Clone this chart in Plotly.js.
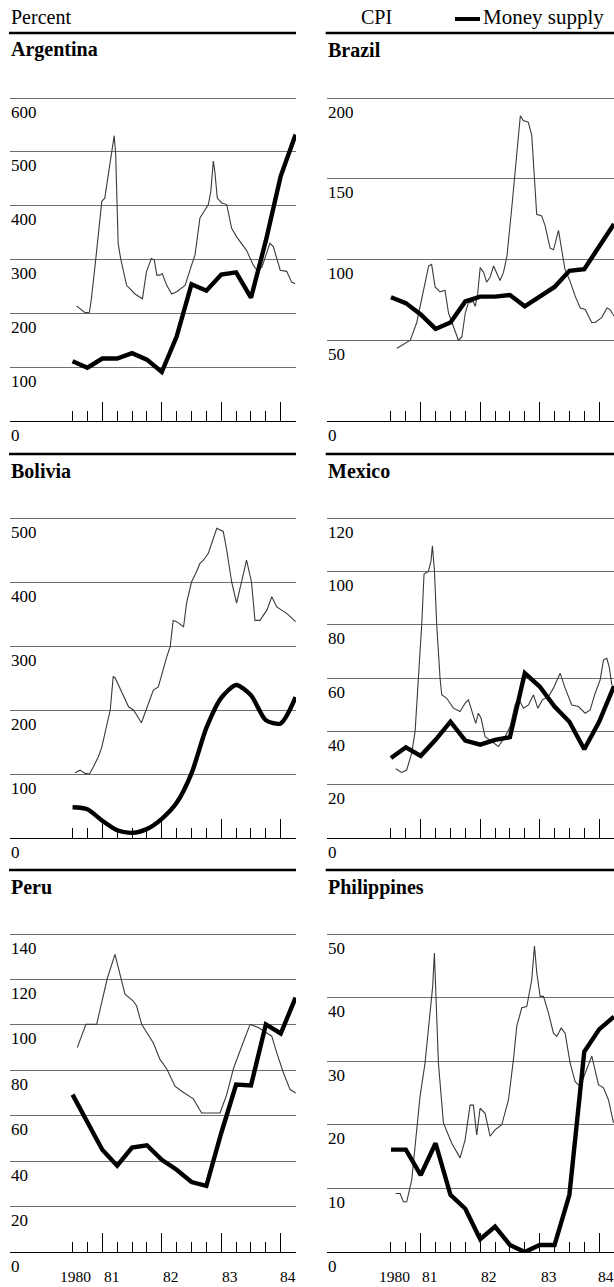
<!DOCTYPE html>
<html><head><meta charset="utf-8">
<script src="https://cdn.plot.ly/plotly-3.0.1.min.js"></script>
<style>html,body{margin:0;padding:0;background:#fff;} #chart{width:614px;height:1287px;}</style>
</head><body><div id="chart"></div>
<script>
// x values are months since January 1980
const quarterMonths = [6,9,12,15,18,21,24,27,30,33,36,39,42,45,48,51];
const yearTickMonths = [12,24,36,48];
const quarterTickMonths = [6,9,15,18,21,27,30,33,39,42,45,51];
const yearLabels = ["1980","81","82","83","84"];
const yearLabelMonths = [10.2,11.9,23.8,35.8,47.4];

const countries = ["Argentina","Brazil","Bolivia","Mexico","Peru","Philippines"];

// Argentina
const argCpiX = [6.8,8.5,9.4,9.8,10.7,11.2,11.9,12.5,13.5,14,14.4,14.7,14.9,15.2,15.7,16.9,18.6,19.6,20.1,20.9,21.9,22.5,23,23.6,24.1,25,26,27,28.7,30,30.7,31.7,32.7,33.4,33.9,34.4,34.7,35.2,36.1,37.1,38.1,39.1,41.1,42.5,43.2,44.2,44.8,45.8,46.5,47.2,47.9,49.2,50.2,50.9];
const argCpiY = [214,201,202,227,302,352,408,414,471,508,530,496,402,330,302,252,236,230,227,277,302,299,271,271,274,252,236,240,252,289,308,377,392,402,427,483,464,414,405,402,358,342,317,289,280,286,302,330,324,302,280,278,258,255];
const argMoney = [111,99,116,116,126,114,91,157,254,242,272,276,229,335,455,532];
const argTicks = [0,100,200,300,400,500,600];

// Brazil
const braCpiX = [7.2,8.8,9.9,11.2,13.6,14.2,14.9,15.9,16.9,17.6,18.6,19.6,20.3,21.0,21.6,22.6,23.0,23.5,24.0,24.7,25.3,26.0,26.7,27.3,28.0,28.7,29.4,30.4,31.0,32.1,32.7,33.7,34.4,35.1,35.4,36.4,37.1,38.1,38.8,39.8,40.5,41.1,42.2,43.2,44.2,45.2,46.5,47.2,48.5,49.6,50.2,51.0];
const braCpiY = [45,48,50,61,96,97,83,80,81,67,59,50,52,67,73,74,71,79,95,92,86,89,96,92,87,92,102,133,154,189,186,185,177,146,128,127,121,107,106,118,106,94,86,77,70,69,61,61,64,70,69,65];
const braMoney = [76.6,73,66,57,61,74,77,77,78,71,77,83,93,94,108,122];
const braTicks = [0,50,100,150,200];

// Bolivia
const bolCpiX = [6.5,7.5,8.5,9.4,10.2,11.2,11.9,12.9,13.6,14.2,14.6,17.3,18.3,19.9,21.0,22.3,23.3,24.0,25.0,25.7,26.3,27.0,28.4,29.0,30.0,31.0,31.7,32.4,33.4,35.1,36.4,37.1,38.1,39.1,40.1,41.1,42.1,42.8,43.8,45.2,46.2,47.2,49.2,51.0];
const bolCpiY = [102,106,101,100,111,127,142,179,200,252,250,205,200,180,205,231,236,257,283,299,340,338,330,367,400,416,429,434,445,484,479,450,400,367,403,434,400,340,340,356,377,361,351,338];
const bolMoney = [48,45,27,12,8,14,30,55,101,172,219,239,223,184,179,220];
const bolTicks = [0,100,200,300,400,500];

// Mexico
const mexCpiX = [6.95,8.16,9.17,10.18,10.86,11.53,12.2,12.67,13.55,14.09,14.36,14.76,15.23,15.9,16.24,17.25,18.6,19.94,20.95,21.62,22.3,23.1,23.64,24.18,24.99,26.33,27.68,29.03,30.04,31.04,31.72,32.73,33.74,34.75,35.62,36.56,37.77,38.78,40.13,41.14,42.48,43.83,45.18,46.19,47.2,48.21,48.88,49.55,50.02,50.56];
const mexCpiY = [26,24.6,25.5,31.8,39.9,59.3,80,99,100,104,109.6,100.6,80,60,53.7,52.4,48.7,47.4,50.5,51.8,48,43,46.8,44.9,38,36,34.3,38,41.8,49.9,52.4,48.7,49.9,53.7,48.7,51.8,53,56.2,61.8,56.2,49.9,49.3,46.8,48,54.3,59.3,66.8,67.4,64.3,57.4];
const mexMoney = [30,34,30.8,36.8,43.6,36.5,35,36.8,37.8,61.8,56.8,49.3,43.6,33.3,43.6,57];
const mexTicks = [0,20,40,60,80,100,120];

// Peru
const perCpiX = [6.95,8.7,10.86,11.53,13.0,14.56,15.7,16.58,18.26,18.93,19.94,20.95,22.3,23.64,24.99,26.67,28.02,30.37,32.05,33.06,35.75,37.1,38.45,40.13,41.81,43.49,45.18,46.19,47.2,48.54,49.89,51.0];
const perCpiY = [90,100.2,100.2,106.8,120.4,131,120.4,113.5,110.5,108.3,100.2,96.5,92,84.8,80.7,73,70.8,67.4,61.2,61.2,61.2,69.3,80.7,90.6,100.2,98.8,96.5,95,87.7,78.9,71.5,70];
const perMoney = [69.3,56.8,45,38,46,47,40.6,36.2,30.8,29.1,52.4,73.7,73.3,100.2,96.2,112];
const perTicks = [0,20,40,60,80,100,120,140];

// Philippines
const phiCpiX = [6.95,7.83,8.5,9.17,10.18,10.86,11.87,12.87,13.88,14.42,14.76,15.1,15.57,16.58,18.26,19.94,20.95,21.96,22.63,23.3,23.98,24.99,26.0,27.0,28.35,29.7,30.7,31.38,32.39,33.4,34.4,34.95,35.42,36.09,36.77,37.77,38.78,39.46,40.33,41.14,42.15,43.16,44.17,45.18,46.52,47.87,48.88,49.89,50.9];
const phiCpiY = [9.2,9.2,7.9,7.9,11.3,17.1,24.5,29.7,37.6,41.8,47,40.2,29.7,20.3,17.1,14.8,17.6,23.1,23.1,18.4,22.6,21.8,18.2,19.2,20,23.9,30.2,35.5,38.4,38.6,42.8,48.1,43.9,40.2,40.2,37.6,34.4,33.9,35.2,34.4,29.7,26.8,26,28.1,30.8,26.3,25.8,23.9,20.3];
const phiMoney = [16.1,16.1,12.1,17.1,9,6.8,2,4,1.1,0,1.1,1.1,9,31.5,35,37];
const phiTicks = [0,10,20,30,40,50];

const cpiXs = [argCpiX, braCpiX, bolCpiX, mexCpiX, perCpiX, phiCpiX];
const cpiYs = [argCpiY, braCpiY, bolCpiY, mexCpiY, perCpiY, phiCpiY];
const moneys = [argMoney, braMoney, bolMoney, mexMoney, perMoney, phiMoney];
const tickSets = [argTicks, braTicks, bolTicks, mexTicks, perTicks, phiTicks];

// ---------- layout geometry (pixels) ----------
const W = 614, H = 1287;
const fx = v => v / W;
const fy = v => 1 - v / H;
const colPx = [[10, 296], [326.7, 614]];
const colRange = [[-6.62, 51.08], [-6.97, 51.0]];
const rowPx = [[98, 421], [518, 838], [934, 1252]];
const titlePy = [50, 471, 887];
const rulePy = [33, 454, 870];
const PAD = 4; // extra pixels above the top gridline so it is drawn
const FONT = "Liberation Serif, Times New Roman, serif";

const data = [];
const layout = {
  width: W, height: H,
  margin: {l: 0, r: 0, t: 0, b: 0},
  paper_bgcolor: '#fff', plot_bgcolor: 'rgba(0,0,0,0)',
  showlegend: false,
  font: {family: FONT, color: '#000'},
  annotations: [], shapes: []
};

countries.forEach((name, i) => {
  const k = i + 1;
  const col = i % 2, row = Math.floor(i / 2);
  const xa = 'x' + k, ya = 'y' + k;
  data.push({
    type: 'scatter', mode: 'lines', x: cpiXs[i], y: cpiYs[i],
    xaxis: xa, yaxis: ya, name: 'CPI',
    line: {color: '#3a3a3a', width: 1.1}, hoverinfo: 'skip'
  });
  data.push({
    type: 'scatter', mode: 'lines', x: quarterMonths, y: moneys[i],
    xaxis: xa, yaxis: ya, name: 'Money supply',
    line: {color: '#000', width: 4.4, shape: name === 'Bolivia' ? 'spline' : 'linear', smoothing: 0.7},
    hoverinfo: 'skip'
  });
  const ticks = tickSets[i];
  const top = ticks[ticks.length - 1];
  const rowTop = rowPx[row][0], rowBot = rowPx[row][1];
  const rangeMax = top + PAD * top / (rowBot - rowTop);
  layout['xaxis' + (k === 1 ? '' : k)] = {
    domain: [fx(colPx[col][0]), fx(colPx[col][1])],
    range: colRange[col], anchor: ya,
    showgrid: false, zeroline: false,
    showline: true, linecolor: '#000', linewidth: 1,
    tickmode: 'array', tickvals: yearTickMonths,
    ticks: 'inside', ticklen: 19, tickwidth: 1, tickcolor: '#000',
    showticklabels: false,
    minor: {tickmode: 'array', tickvals: quarterTickMonths, ticks: 'inside', ticklen: 10, tickwidth: 1, tickcolor: '#000', showgrid: false},
    fixedrange: true
  };
  layout['yaxis' + (k === 1 ? '' : k)] = {
    domain: [fy(rowBot), fy(rowTop - PAD)],
    range: [0, rangeMax], anchor: xa,
    tickmode: 'array', tickvals: ticks,
    showgrid: true, gridcolor: '#4a4a4a', gridwidth: 0.8,
    zeroline: false, showline: false, ticks: '', showticklabels: false,
    fixedrange: true
  };
  // value labels, set just below each gridline at the left edge
  ticks.forEach(v => {
    layout.annotations.push({
      xref: 'paper', yref: ya, x: fx(colPx[col][0] - 1), y: v, yshift: -14,
      xanchor: 'left', yanchor: 'middle', showarrow: false,
      text: String(v), font: {family: FONT, size: 17, color: '#000'}
    });
  });
  // panel title
  layout.annotations.push({
    xref: 'paper', yref: 'paper', x: fx(colPx[col][0] - 1), y: fy(titlePy[row]),
    xanchor: 'left', yanchor: 'middle', showarrow: false,
    text: '<b>' + name + '</b>', font: {family: FONT, size: 20, color: '#000'}
  });
  // rule above the panel title
  layout.shapes.push({
    type: 'line', xref: 'paper', yref: 'paper',
    x0: fx(colPx[col][0] - 1), x1: fx(colPx[col][1]), y0: fy(rulePy[row]), y1: fy(rulePy[row]),
    line: {color: '#000', width: 2.4}
  });
  // year labels on the bottom row
  if (row === 2) {
    yearLabels.forEach((lab, j) => {
      layout.annotations.push({
        xref: xa, yref: 'paper', x: yearLabelMonths[j], y: fy(1276),
        xanchor: j === 0 ? 'right' : 'left', yanchor: 'middle', showarrow: false,
        text: lab, font: {family: FONT, size: 15.5, color: '#000'}
      });
    });
  }
});

// header
layout.annotations.push({
  xref: 'paper', yref: 'paper', x: fx(9), y: fy(17), xanchor: 'left', yanchor: 'middle',
  showarrow: false, text: 'Percent', font: {family: FONT, size: 20, color: '#000'}
});
layout.annotations.push({
  xref: 'paper', yref: 'paper', x: fx(359), y: fy(17), xanchor: 'left', yanchor: 'middle',
  showarrow: false, text: 'CPI', font: {family: FONT, size: 20, color: '#000'}
});
layout.annotations.push({
  xref: 'paper', yref: 'paper', x: fx(481), y: fy(17), xanchor: 'left', yanchor: 'middle',
  showarrow: false, text: 'Money supply', font: {family: FONT, size: 21, color: '#000'}
});
layout.shapes.push({
  type: 'line', xref: 'paper', yref: 'paper', x0: fx(455), x1: fx(480), y0: fy(19), y1: fy(19),
  line: {color: '#000', width: 4}
});

Plotly.newPlot('chart', data, layout, {staticPlot: true, displayModeBar: false});
</script></body></html>
